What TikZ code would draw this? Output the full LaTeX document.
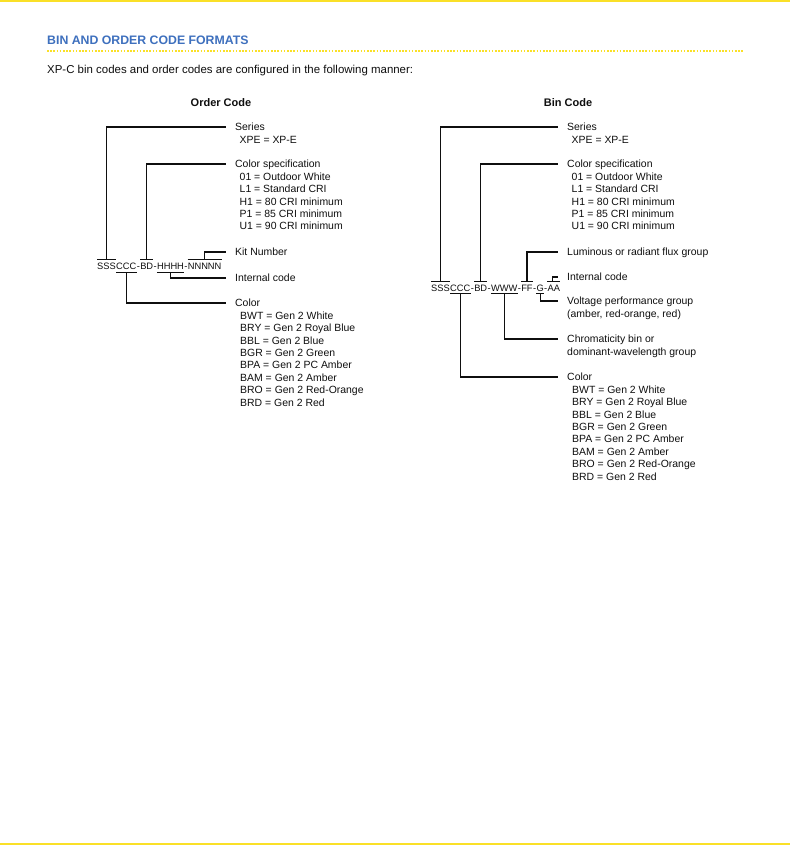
\documentclass[tikz,border=0pt]{standalone}
\usepackage{fontspec}
\setmainfont{Liberation Sans}
\usepackage{xcolor}
\usepackage{tikz}
\usetikzlibrary{positioning,calc}
\definecolor{titleblue}{RGB}{62,112,190}
\definecolor{rulegold}{RGB}{250,224,40}
\definecolor{inkgray}{RGB}{15,15,15}
\newcommand\cspeclist{01 = Outdoor White, L1 = Standard CRI, H1 = 80 CRI minimum, P1 = 85 CRI minimum, U1 = 90 CRI minimum}
\newcommand\colorlist{BWT = Gen 2 White, BRY = Gen 2 Royal Blue, BBL = Gen 2 Blue, BGR = Gen 2 Green, BPA = Gen 2 PC Amber, BAM = Gen 2 Amber, BRO = Gen 2 Red-Orange, BRD = Gen 2 Red}

\begin{document}
\begin{tikzpicture}[
  x=1pt, y=-1pt,
  every node/.style={text=inkgray},
  lbl/.style={anchor=west, inner xsep=9.5pt, inner ysep=0pt, text height=7.4pt, text depth=0pt, font={\fontsize{10.45}{12.4}\selectfont}},
  val/.style={anchor=base west, inner sep=0pt, font={\fontsize{10.45}{12.4}\selectfont}},
  seg/.style={inner sep=0pt, text height=6.7pt, text depth=0pt, font={\fontsize{9.3}{11}\selectfont}},
  head/.style={anchor=base, inner sep=0pt, font={\bfseries\fontsize{11}{13}\selectfont}},
  wire/.style={line width=1.1pt, draw=inkgray},
]
  \fill[white] (0,0) rectangle (790,845);
  \useasboundingbox (0,0) rectangle (790,845);
  \fill[rulegold] (0,0) rectangle (790,2);
  \fill[rulegold] (0,842.5) rectangle (790,845);

  \node[anchor=base west, inner sep=0pt, text=titleblue, font={\bfseries\fontsize{12.3}{14}\selectfont}] (title) at (47,45) {BIN AND ORDER CODE FORMATS};
  \draw[rulegold, line width=1.6pt, dash pattern=on 1.6pt off 1.6pt] (47,51) -- (743,51);
  \node[anchor=base west, inner sep=0pt, font={\fontsize{11.45}{13}\selectfont}] (intro) at (47,74) {XP-C bin codes and order codes are configured in the following manner:};

  % order code
  \node[head] (ordhead) at (221,107) {Order Code};

  \node[seg, anchor=base west] (lsss) at (97,269) {SSS};
  \node[seg, right=0pt of lsss] (lccc) {CCC};
  \node[seg, right=0pt of lccc] (ld1) {-};
  \node[seg, right=0pt of ld1] (lbd) {BD};
  \node[seg, right=0pt of lbd] (ld2) {-};
  \node[seg, right=0pt of ld2] (lhhhh) {HHHH};
  \node[seg, right=0pt of lhhhh] (ld3) {-};
  \node[seg, right=0pt of ld3] (lnnnnn) {NNNNN};

  \node[lbl] (lseries) at (225.5,127) {Series};
  \node[val] (lseriesv) at ($(lseries.south west)+(14,12.4)$) {XPE = XP-E};
  \node[lbl] (lcspec) at (225.5,164) {Color specification};
  \foreach \t [count=\i] in \cspeclist
    \node[val] (lcspec\i) at ($(lcspec.south west)+(14,12.4*\i)$) {\t};
  \node[lbl] (lkit) at (225.5,252) {Kit Number};
  \node[lbl] (lint) at (225.5,278) {Internal code};
  \node[lbl] (lcolor) at (225.5,303) {Color};
  \foreach \t [count=\i] in \colorlist
    \node[val] (lcolor\i) at ($(lcolor.south west)+(14.5,12.4*\i)$) {\t};

  \foreach \s in {lsss,lbd,lnnnnn}
    \draw[wire] ([yshift=3pt]\s.north west) -- ([yshift=3pt]\s.north east);
  \foreach \s in {lccc,lhhhh}
    \draw[wire] ([yshift=-3pt]\s.south west) -- ([yshift=-3pt]\s.south east);
  \draw[wire] (lseries.west) -| ([yshift=3pt]lsss.north);
  \draw[wire] (lcspec.west) -| ([yshift=3pt]lbd.north);
  \draw[wire] (lkit.west) -| ([yshift=3pt]lnnnnn.north);
  \draw[wire] ([yshift=-3pt]lhhhh.south) |- (lint.west);
  \draw[wire] ([yshift=-3pt]lccc.south) |- (lcolor.west);

  % bin code
  \node[head] (binhead) at (568,107) {Bin Code};

  \node[seg, anchor=base west] (rsss) at (431,291) {SSS};
  \node[seg, right=0pt of rsss] (rccc) {CCC};
  \node[seg, right=0pt of rccc] (rd1) {-};
  \node[seg, right=0pt of rd1] (rbd) {BD};
  \node[seg, right=0pt of rbd] (rd2) {-};
  \node[seg, right=0pt of rd2] (rwww) {WWW};
  \node[seg, right=0pt of rwww] (rd3) {-};
  \node[seg, right=0pt of rd3] (rff) {FF};
  \node[seg, right=0pt of rff] (rd4) {-};
  \node[seg, right=0pt of rd4] (rg) {G};
  \node[seg, right=0pt of rg] (rd5) {-};
  \node[seg, right=0pt of rd5] (raa) {AA};

  \node[lbl] (rseries) at (557.5,127) {Series};
  \node[val] (rseriesv) at ($(rseries.south west)+(14,12.4)$) {XPE = XP-E};
  \node[lbl] (rcspec) at (557.5,164) {Color specification};
  \foreach \t [count=\i] in \cspeclist
    \node[val] (rcspec\i) at ($(rcspec.south west)+(14,12.4*\i)$) {\t};
  \node[lbl] (rflux) at (557.5,252) {Luminous or radiant flux group};
  \node[lbl] (rint) at (557.5,277) {Internal code};
  \node[lbl] (rvolt) at (557.5,301) {Voltage performance group};
  \node[val] (rvolt2) at ($(rvolt.south west)+(9.5,12.4)$) {(amber, red-orange, red)};
  \node[lbl] (rchroma) at (557.5,339) {Chromaticity bin or};
  \node[val] (rchroma2) at ($(rchroma.south west)+(9.5,12.4)$) {dominant-wavelength group};
  \node[lbl] (rcolor) at (557.5,377) {Color};
  \foreach \t [count=\i] in \colorlist
    \node[val] (rcolor\i) at ($(rcolor.south west)+(14.5,12.4*\i)$) {\t};

  \foreach \s in {rsss,rbd,rff,raa}
    \draw[wire] ([yshift=2.5pt]\s.north west) -- ([yshift=2.5pt]\s.north east);
  \foreach \s in {rccc,rwww,rg}
    \draw[wire] ([yshift=-2.5pt]\s.south west) -- ([yshift=-2.5pt]\s.south east);
  \draw[wire] (rseries.west) -| ([yshift=2.5pt]rsss.north);
  \draw[wire] (rcspec.west) -| ([yshift=2.5pt]rbd.north);
  \draw[wire] (rflux.west) -| ([yshift=2.5pt]rff.north);
  \draw[wire] (rint.west) -| ([xshift=-1.5pt,yshift=2.5pt]raa.north);
  \draw[wire] ([yshift=-2.5pt]rg.south) |- (rvolt.west);
  \draw[wire] ([yshift=-2.5pt]rwww.south) |- (rchroma.west);
  \draw[wire] ([yshift=-2.5pt]rccc.south) |- (rcolor.west);
\end{tikzpicture}
\end{document}
